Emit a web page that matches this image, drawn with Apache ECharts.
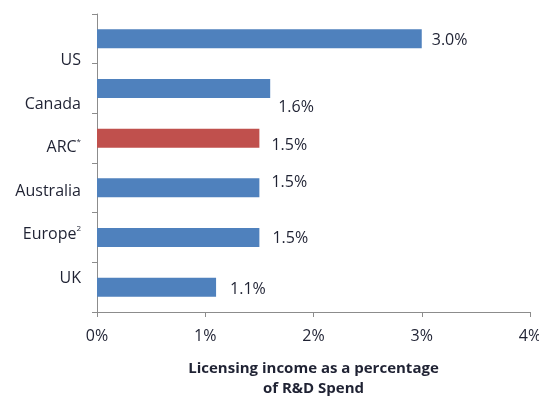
<!DOCTYPE html>
<html>
<head>
<meta charset="utf-8">
<script src="https://cdn.jsdelivr.net/npm/echarts@6/dist/echarts.min.js"></script>
<style>
  html, body { margin: 0; padding: 0; background: #fff; }
  #main { width: 539px; height: 399px; }
</style>
</head>
<body>
<div id="main"></div>
<script>
// data, top to bottom
var categories = ['US', 'Canada', 'ARC', 'Australia', 'Europe', 'UK'];
var marks = ['', '', '*', '', '2', ''];
var values = [3.0, 1.6, 1.5, 1.5, 1.5, 1.1];
var highlight = 'ARC';
var xTicks = [0, 1, 2, 3, 4];
// value labels in the original sit a little off their bars
var labelNudge = [[0, 2], [-2, 19], [2, 7], [2, -5], [3, 1], [4, 2]];

var font = 'Open Sans';
var textColor = '#1f2233';
var axisColor = '#8c8c8c';

var myChart = echarts.init(document.getElementById('main'));

var barData = values.map(function (v, i) {
    return {
        value: v,
        itemStyle: { color: categories[i] === highlight ? '#c0504d' : '#4f81bd' },
        label: { offset: labelNudge[i] }
    };
});

var option = {
    animation: false,
    grid: [
        { left: 97, right: 9, top: 14, bottom: 87, outerBoundsMode: 'none' },
        // second grid only carries the category names, which sit off the bars
        { left: 97, right: 9, top: 39, bottom: 99, outerBoundsMode: 'none' }
    ],
    xAxis: [{
        type: 'value',
        gridIndex: 0,
        min: xTicks[0],
        max: xTicks[xTicks.length - 1],
        interval: 1,
        splitLine: { show: false },
        axisLine: { show: true, lineStyle: { color: axisColor } },
        axisTick: { show: true, length: 5, lineStyle: { color: axisColor } },
        axisLabel: {
            formatter: '{value}%',
            margin: 16,
            color: textColor,
            fontFamily: font,
            fontSize: 16
        },
        name: 'Licensing income as a percentage\nof R&D Spend',
        nameLocation: 'middle',
        nameGap: 47,
        nameTextStyle: {
            color: textColor,
            fontFamily: font,
            fontSize: 15,
            fontWeight: 'bold',
            lineHeight: 20
        }
    }, {
        type: 'value',
        gridIndex: 1,
        show: false,
        min: 0,
        max: 4
    }],
    yAxis: [{
        type: 'category',
        gridIndex: 0,
        inverse: true,
        data: categories,
        axisLine: { show: true, lineStyle: { color: axisColor } },
        axisTick: { show: true, length: 5, lineStyle: { color: axisColor } },
        axisLabel: { show: false }
    }, {
        type: 'category',
        gridIndex: 1,
        inverse: true,
        data: categories,
        axisLine: { show: false },
        axisTick: { show: false },
        axisLabel: {
            margin: 16,
            formatter: function (v) {
                var idx = categories.indexOf(v);
                return '{n|' + v + '}' + (marks[idx] ? '{sup|' + marks[idx] + '}' : '');
            },
            rich: {
                n: { color: textColor, fontFamily: font, fontSize: 16 },
                sup: { color: textColor, fontFamily: font, fontSize: 8, padding: [0, 0, 12, 0] }
            }
        }
    }],
    series: [{
        type: 'bar',
        xAxisIndex: 0,
        yAxisIndex: 0,
        data: barData,
        barWidth: 19,
        label: {
            show: true,
            position: 'right',
            distance: 10,
            formatter: function (p) { return p.value.toFixed(1) + '%'; },
            color: textColor,
            fontFamily: font,
            fontSize: 16
        }
    }, {
        type: 'bar',
        xAxisIndex: 1,
        yAxisIndex: 1,
        data: []
    }]
};

myChart.setOption(option);
</script>
</body>
</html>
